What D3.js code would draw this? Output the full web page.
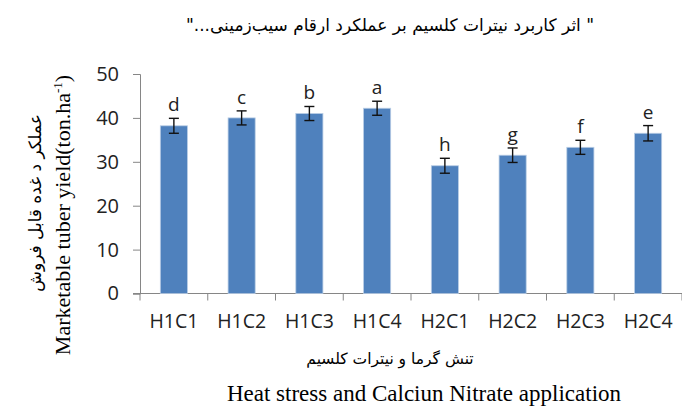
<!DOCTYPE html>
<html>
<head>
<meta charset="utf-8">
<script src="https://cdn.jsdelivr.net/npm/d3@7"></script>
<style>
  body { margin: 0; background: #fff; }
  svg { display: block; }
</style>
</head>
<body>
<script>
"use strict";

(function() {

let width = 682;
let height = 407;

// data
let categories = ['H1C1', 'H1C2', 'H1C3', 'H1C4', 'H2C1', 'H2C2', 'H2C3', 'H2C4'];
let yields = [38.2, 40.0, 41.0, 42.2, 29.1, 31.5, 33.3, 36.5];
let errors = [1.7, 1.6, 1.6, 1.6, 1.7, 1.65, 1.6, 1.75];
let letters = ['d', 'c', 'b', 'a', 'h', 'g', 'f', 'e'];
let yTicks = [0, 10, 20, 30, 40, 50];

let data = categories.map(function(c, i) {
    return { cat: c, value: yields[i], err: errors[i], letter: letters[i] };
});

let margin = { left: 140, right: 0, top: 74, bottom: 113.5 };

let svg = d3.select('body')
    .append('svg')
    .attr('width', width)
    .attr('height', height);

let x = d3.scaleBand()
    .domain(categories)
    .range([margin.left, width - margin.right])
    .paddingInner(0.6)
    .paddingOuter(0.3);

let y = d3.scaleLinear()
    .domain([0, 50])
    .range([height - margin.bottom, margin.top]);

let axisColor = '#868686';
let sans = "'Open Sans', 'Noto Sans', sans-serif";
let serif = "'Liberation Serif', 'DejaVu Serif', serif";
let persian = "'DejaVu Sans', sans-serif";

// y axis
let yAxis = svg.append('g')
    .attr('transform', 'translate(' + margin.left + ',0)')
    .call(d3.axisLeft(y).tickValues(yTicks).tickSize(7).tickPadding(14));
yAxis.select('.domain').attr('stroke', axisColor);
yAxis.selectAll('.tick line').attr('stroke', axisColor);
yAxis.selectAll('.tick text')
    .attr('fill', '#222')
    .style('font-family', sans)
    .style('font-size', '20px');

// x axis with ticks at the category boundaries
let bandStep = x.step();
let boundaries = d3.range(categories.length + 1).map(function(i) {
    return margin.left + i * bandStep;
});
let xg = svg.append('g');
xg.append('line')
    .attr('x1', margin.left - 7)
    .attr('x2', width - margin.right)
    .attr('y1', y(0))
    .attr('y2', y(0))
    .attr('stroke', axisColor);
xg.selectAll('.xtick')
    .data(boundaries)
    .enter()
    .append('line')
    .attr('class', 'xtick')
    .attr('x1', function(d) { return d; })
    .attr('x2', function(d) { return d; })
    .attr('y1', y(0))
    .attr('y2', y(0) + 7)
    .attr('stroke', axisColor);
xg.selectAll('.xlabel')
    .data(categories)
    .enter()
    .append('text')
    .attr('class', 'xlabel')
    .attr('x', function(d) { return x(d) + x.bandwidth() / 2; })
    .attr('y', 328)
    .attr('text-anchor', 'middle')
    .attr('fill', '#222')
    .style('font-family', sans)
    .style('font-size', '19.5px')
    .text(function(d) { return d; });

// bars
svg.selectAll('.bar')
    .data(data)
    .enter()
    .append('rect')
    .attr('class', 'bar')
    .attr('x', function(d) { return x(d.cat); })
    .attr('width', x.bandwidth())
    .attr('y', function(d) { return y(d.value); })
    .attr('height', function(d) { return y(0) - y(d.value); })
    .attr('fill', '#4F81BD')
    .attr('stroke', '#B9CDE5')
    .attr('stroke-width', 0.8);

// error bars
let eb = svg.selectAll('.err')
    .data(data)
    .enter()
    .append('g')
    .attr('class', 'err')
    .attr('stroke', '#111')
    .attr('stroke-width', 1.4);
let cx = function(d) { return x(d.cat) + x.bandwidth() / 2; };
eb.append('line')
    .attr('x1', cx).attr('x2', cx)
    .attr('y1', function(d) { return y(d.value + d.err); })
    .attr('y2', function(d) { return y(d.value - d.err); });
eb.append('line')
    .attr('x1', function(d) { return cx(d) - 5; })
    .attr('x2', function(d) { return cx(d) + 5; })
    .attr('y1', function(d) { return y(d.value + d.err); })
    .attr('y2', function(d) { return y(d.value + d.err); });
eb.append('line')
    .attr('x1', function(d) { return cx(d) - 5; })
    .attr('x2', function(d) { return cx(d) + 5; })
    .attr('y1', function(d) { return y(d.value - d.err); })
    .attr('y2', function(d) { return y(d.value - d.err); });

// significance letters
svg.selectAll('.letter')
    .data(data)
    .enter()
    .append('text')
    .attr('class', 'letter')
    .attr('x', cx)
    .attr('y', function(d) { return y(d.value + d.err) - 7; })
    .attr('text-anchor', 'middle')
    .attr('fill', '#222')
    .style('font-family', sans)
    .style('font-size', '19px')
    .text(function(d) { return d.letter; });

// title
svg.append('text')
    .attr('x', 390)
    .attr('y', 31)
    .attr('text-anchor', 'middle')
    .attr('direction', 'rtl')
    .attr('fill', '#000')
    .style('font-family', persian)
    .style('font-size', '17px')
    .text('" اثر کاربرد نیترات کلسیم بر عملکرد ارقام سیب‌زمینی..."');

// y axis titles
svg.append('text')
    .attr('transform', 'translate(41,203) rotate(-90)')
    .attr('text-anchor', 'middle')
    .attr('direction', 'rtl')
    .attr('fill', '#000')
    .style('font-family', persian)
    .style('font-size', '17px')
    .text('عملکر د غده قابل فروش');

let ytitle = svg.append('text')
    .attr('transform', 'translate(70,215) rotate(-90)')
    .attr('text-anchor', 'middle')
    .attr('fill', '#000')
    .style('font-family', serif)
    .style('font-size', '22px');
ytitle.append('tspan').text('Marketable tuber yield(ton.ha');
ytitle.append('tspan').attr('dy', -8).style('font-size', '13px').text('-1');
ytitle.append('tspan').attr('dy', 8).text(')');

// x axis titles
svg.append('text')
    .attr('x', 390)
    .attr('y', 364)
    .attr('text-anchor', 'middle')
    .attr('direction', 'rtl')
    .attr('fill', '#000')
    .style('font-family', persian)
    .style('font-size', '15.5px')
    .text('تنش گرما و نیترات کلسیم');

svg.append('text')
    .attr('x', 424)
    .attr('y', 401)
    .attr('text-anchor', 'middle')
    .attr('fill', '#000')
    .style('font-family', serif)
    .style('font-size', '23px')
    .text('Heat stress and Calciun Nitrate application');

})();
</script>
</body>
</html>
